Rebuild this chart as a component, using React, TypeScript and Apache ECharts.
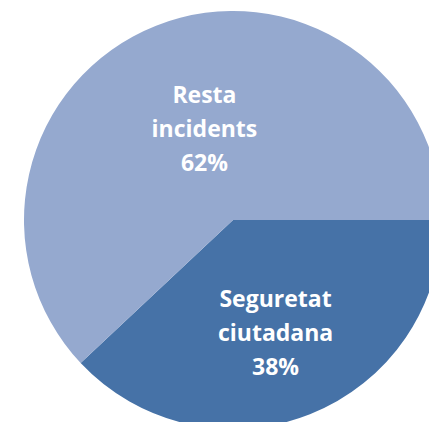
import React, { useEffect, useRef } from "react";
import * as echarts from "echarts";

const categories = ["Seguretat ciutadana", "Resta incidents"];
const values = [38, 62];
const colors = ["#4672A7", "#95A9CF"];

export default function App() {
  const ref = useRef<HTMLDivElement>(null);
  useEffect(() => {
    document.body.style.margin = "0";
    const chart = echarts.init(ref.current!, null, { renderer: "svg" });
    const labelShift = [
      [3, 12],
      [11, 8],
    ];
    chart.setOption({
      animation: false,
      backgroundColor: "#ffffff",
      series: [
        {
          type: "pie",
          center: [233, 220],
          radius: 209,
          startAngle: 0,
          clockwise: true,
          avoidLabelOverlap: false,
          data: categories.map((name, i) => ({
            name,
            value: values[i],
            itemStyle: { color: colors[i] },
          })),
          itemStyle: { borderWidth: 0 },
          label: {
            show: true,
            position: "inside",
            color: "#ffffff",
            fontFamily: "Open Sans",
            fontWeight: "bold",
            fontSize: 23,
            lineHeight: 34,
            align: "center",
            formatter: (p: any) =>
              p.name.replace(" ", "\n") + "\n" + Math.round(p.percent) + "%",
          },
          labelLine: { show: false },
          labelLayout: (p: any) => ({
            dx: labelShift[p.dataIndex][0],
            dy: labelShift[p.dataIndex][1],
          }),
          emphasis: { disabled: true },
        },
      ],
    });
    return () => chart.dispose();
  }, []);
  return <div ref={ref} style={{ width: 429, height: 422 }} />;
}
